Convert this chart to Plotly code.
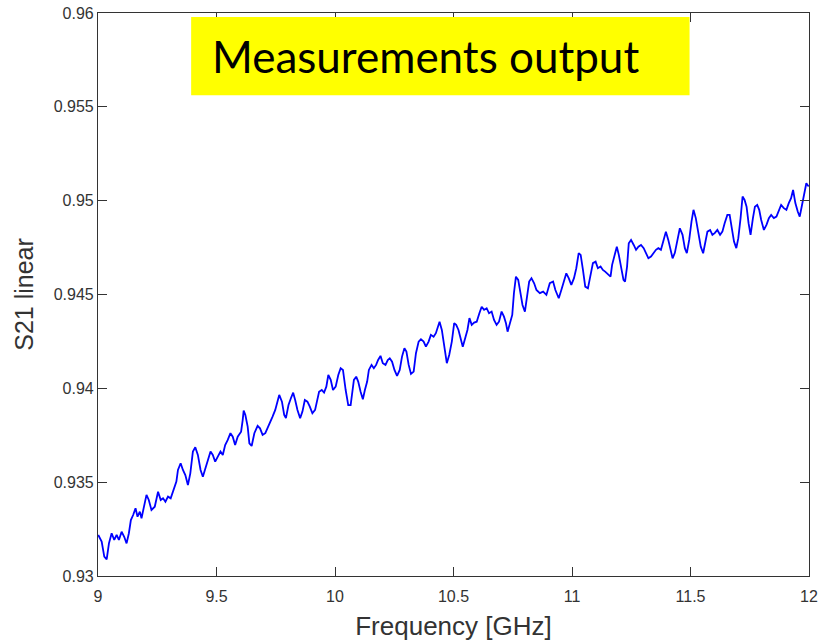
import plotly.graph_objects as go

# Measured transmission S21 (linear magnitude) versus frequency
freq_ghz = [
    9.0010, 9.0155, 9.0265, 9.0366, 9.0462, 9.0576, 9.0685, 9.0786, 9.0882, 9.0996,
    9.1105, 9.1206, 9.1303, 9.1387, 9.1483, 9.1584, 9.1668, 9.1765, 9.1836, 9.1945,
    9.2046, 9.2143, 9.2256, 9.2395, 9.2534, 9.2647, 9.2744, 9.2845, 9.2954, 9.3067,
    9.3164, 9.3307, 9.3374, 9.3487, 9.3584, 9.3685, 9.3794, 9.3895, 9.4004, 9.4105,
    9.4214, 9.4328, 9.4424, 9.4525, 9.4634, 9.4748, 9.4844, 9.4945, 9.5055, 9.5168,
    9.5265, 9.5366, 9.5475, 9.5588, 9.5685, 9.5786, 9.5895, 9.6038, 9.6105, 9.6147,
    9.6218, 9.6315, 9.6387, 9.6483, 9.6597, 9.6735, 9.6836, 9.6945, 9.7059, 9.7155,
    9.7256, 9.7366, 9.7479, 9.7576, 9.7647, 9.7761, 9.7857, 9.7929, 9.8038, 9.8139,
    9.8235, 9.8319, 9.8416, 9.8529, 9.8626, 9.8727, 9.8836, 9.8937, 9.9046, 9.9160,
    9.9256, 9.9328, 9.9441, 9.9538, 9.9634, 9.9718, 9.9819, 9.9916, 10.0029, 10.0139,
    10.0239, 10.0336, 10.0450, 10.0559, 10.0660, 10.0727, 10.0798, 10.0895, 10.0979, 10.1080,
    10.1176, 10.1261, 10.1357, 10.1429, 10.1542, 10.1639, 10.1735, 10.1819, 10.1920, 10.2017,
    10.2130, 10.2227, 10.2311, 10.2408, 10.2509, 10.2618, 10.2731, 10.2828, 10.2929, 10.3013,
    10.3109, 10.3206, 10.3319, 10.3416, 10.3529, 10.3626, 10.3739, 10.3836, 10.3950, 10.4046,
    10.4160, 10.4256, 10.4340, 10.4412, 10.4508, 10.4609, 10.4718, 10.4819, 10.4929, 10.5029,
    10.5113, 10.5210, 10.5307, 10.5391, 10.5492, 10.5588, 10.5672, 10.5769, 10.5870, 10.5979,
    10.6092, 10.6189, 10.6290, 10.6399, 10.6500, 10.6609, 10.6710, 10.6819, 10.6920, 10.7029,
    10.7130, 10.7214, 10.7282, 10.7382, 10.7479, 10.7550, 10.7634, 10.7731, 10.7828, 10.7912,
    10.8013, 10.8109, 10.8193, 10.8290, 10.8403, 10.8500, 10.8643, 10.8782, 10.8920, 10.9063,
    10.9202, 10.9299, 10.9441, 10.9550, 10.9664, 10.9760, 10.9861, 10.9971, 11.0084, 11.0181,
    11.0282, 11.0366, 11.0462, 11.0559, 11.0672, 11.0786, 11.0882, 11.0996, 11.1092, 11.1206,
    11.1303, 11.1399, 11.1513, 11.1626, 11.1693, 11.1794, 11.1891, 11.1975, 11.2071, 11.2172,
    11.2239, 11.2323, 11.2395, 11.2492, 11.2605, 11.2702, 11.2803, 11.2912, 11.3025, 11.3122,
    11.3223, 11.3332, 11.3445, 11.3542, 11.3643, 11.3752, 11.3866, 11.3962, 11.4063, 11.4147,
    11.4244, 11.4340, 11.4454, 11.4550, 11.4664, 11.4761, 11.4845, 11.4945, 11.5042, 11.5126,
    11.5223, 11.5324, 11.5433, 11.5534, 11.5618, 11.5714, 11.5828, 11.5924, 11.6021, 11.6134,
    11.6248, 11.6345, 11.6441, 11.6555, 11.6651, 11.6735, 11.6836, 11.6933, 11.7017, 11.7113,
    11.7197, 11.7282, 11.7366, 11.7450, 11.7534, 11.7634, 11.7718, 11.7815, 11.7899, 11.7983,
    11.8097, 11.8206, 11.8307, 11.8403, 11.8517, 11.8626, 11.8739, 11.8824, 11.8937, 11.9046,
    11.9147, 11.9244, 11.9328, 11.9424, 11.9525, 11.9609, 11.9706, 11.9803, 11.9887, 11.9987,
]

s21_linear = [
    0.93219, 0.93183, 0.93103, 0.93089, 0.93174, 0.93228, 0.93192, 0.93219, 0.93192, 0.93236,
    0.93209, 0.93174, 0.93228, 0.93298, 0.93325, 0.93361, 0.93316, 0.93343, 0.93308, 0.93369,
    0.93432, 0.93405, 0.93352, 0.93369, 0.93449, 0.93405, 0.93414, 0.93396, 0.93423, 0.93414,
    0.93449, 0.93503, 0.93565, 0.93601, 0.93565, 0.93538, 0.93485, 0.93547, 0.93663, 0.93686,
    0.93645, 0.93565, 0.93529, 0.93574, 0.93618, 0.93663, 0.93645, 0.93609, 0.93636, 0.93663,
    0.93645, 0.93698, 0.93725, 0.93761, 0.93742, 0.93698, 0.93742, 0.93769, 0.93831, 0.93881,
    0.93858, 0.93796, 0.93707, 0.93693, 0.93761, 0.93800, 0.93787, 0.93752, 0.93761, 0.93787,
    0.93822, 0.93849, 0.93885, 0.93938, 0.93965, 0.93929, 0.93858, 0.93841, 0.93911, 0.93947,
    0.93977, 0.93938, 0.93885, 0.93841, 0.93876, 0.93938, 0.93929, 0.93902, 0.93867, 0.93885,
    0.93938, 0.93982, 0.93991, 0.93977, 0.94009, 0.94071, 0.94045, 0.93991, 0.94009, 0.94071,
    0.94107, 0.94098, 0.93991, 0.93911, 0.93911, 0.93982, 0.94045, 0.94062, 0.94036, 0.93982,
    0.93942, 0.93991, 0.94036, 0.94098, 0.94125, 0.94107, 0.94125, 0.94151, 0.94173, 0.94134,
    0.94125, 0.94151, 0.94160, 0.94142, 0.94098, 0.94066, 0.94098, 0.94169, 0.94214, 0.94196,
    0.94125, 0.94077, 0.94089, 0.94187, 0.94249, 0.94262, 0.94249, 0.94222, 0.94249, 0.94285,
    0.94275, 0.94294, 0.94329, 0.94355, 0.94311, 0.94222, 0.94134, 0.94178, 0.94249, 0.94347,
    0.94338, 0.94311, 0.94258, 0.94222, 0.94267, 0.94311, 0.94374, 0.94338, 0.94350, 0.94355,
    0.94400, 0.94435, 0.94418, 0.94427, 0.94400, 0.94409, 0.94364, 0.94338, 0.94355, 0.94409,
    0.94382, 0.94347, 0.94302, 0.94355, 0.94391, 0.94507, 0.94595, 0.94578, 0.94507, 0.94444,
    0.94409, 0.94498, 0.94569, 0.94587, 0.94560, 0.94524, 0.94507, 0.94515, 0.94498, 0.94560,
    0.94569, 0.94524, 0.94480, 0.94524, 0.94578, 0.94613, 0.94587, 0.94551, 0.94587, 0.94640,
    0.94720, 0.94711, 0.94631, 0.94542, 0.94533, 0.94604, 0.94667, 0.94675, 0.94640, 0.94649,
    0.94631, 0.94622, 0.94610, 0.94595, 0.94658, 0.94702, 0.94755, 0.94711, 0.94649, 0.94578,
    0.94569, 0.94649, 0.94773, 0.94791, 0.94764, 0.94738, 0.94755, 0.94764, 0.94747, 0.94720,
    0.94693, 0.94702, 0.94720, 0.94738, 0.94747, 0.94738, 0.94791, 0.94835, 0.94791, 0.94747,
    0.94693, 0.94722, 0.94791, 0.94853, 0.94818, 0.94747, 0.94720, 0.94791, 0.94888, 0.94951,
    0.94907, 0.94835, 0.94755, 0.94720, 0.94782, 0.94835, 0.94844, 0.94818, 0.94827, 0.94844,
    0.94818, 0.94835, 0.94880, 0.94924, 0.94924, 0.94862, 0.94782, 0.94747, 0.94800, 0.94907,
    0.95022, 0.95004, 0.94968, 0.94880, 0.94818, 0.94907, 0.94968, 0.94977, 0.94951, 0.94897,
    0.94844, 0.94871, 0.94907, 0.94924, 0.94907, 0.94915, 0.94951, 0.94977, 0.94960, 0.94951,
    0.94987, 0.95013, 0.95057, 0.94987, 0.94942, 0.94915, 0.94977, 0.95040, 0.95093, 0.95075,
]

x_ticks = [9, 9.5, 10, 10.5, 11, 11.5, 12]
x_tick_text = ["9", "9.5", "10", "10.5", "11", "11.5", "12"]
y_ticks = [0.93, 0.935, 0.94, 0.945, 0.95, 0.955, 0.96]
y_tick_text = ["0.93", "0.935", "0.94", "0.945", "0.95", "0.955", "0.96"]

banner_text = "Measurements output"

axis_color = "#333333"
font_family = "Liberation Sans, Arial, sans-serif"
tick_font = dict(family=font_family, size=16, color=axis_color)

fig = go.Figure()
fig.add_trace(go.Scatter(
    x=freq_ghz, y=s21_linear, mode="lines",
    line=dict(color="#0000FF", width=1.8),
    showlegend=False, hoverinfo="skip",
))

common_axis = dict(
    showgrid=False, zeroline=False, showline=True, mirror="ticks",
    linecolor=axis_color, linewidth=1.2,
    ticks="inside", ticklen=9, tickwidth=1.2, tickcolor=axis_color,
    tickfont=tick_font, ticklabeloverflow="allow",
)

fig.update_xaxes(
    range=[9, 12], tickvals=x_ticks, ticktext=x_tick_text,
    ticklabelstandoff=6,
    title=dict(text="Frequency [GHz]", standoff=12,
               font=dict(family=font_family, size=26, color=axis_color)),
    **common_axis,
)
fig.update_yaxes(
    range=[0.93, 0.96], tickvals=y_ticks, ticktext=y_tick_text,
    title=dict(text="S21 linear", standoff=12,
               font=dict(family=font_family, size=25, color=axis_color)),
    **common_axis,
)

# Yellow banner with the caption
fig.add_shape(
    type="rect", xref="paper", yref="paper",
    x0=0.131, x1=0.832, y0=0.854, y1=0.993,
    fillcolor="#FFFF00", line=dict(width=0), layer="above",
)
fig.add_annotation(
    text=banner_text, xref="paper", yref="paper",
    x=0.158, y=0.924, xanchor="left", yanchor="middle", showarrow=False,
    font=dict(family="Lato, sans-serif", size=44, color="#000000"),
)

fig.update_layout(
    width=819, height=641,
    margin=dict(l=98, r=10, t=13, b=65, autoexpand=False),
    paper_bgcolor="#FFFFFF", plot_bgcolor="#FFFFFF",
)

fig.write_html("out.html")
